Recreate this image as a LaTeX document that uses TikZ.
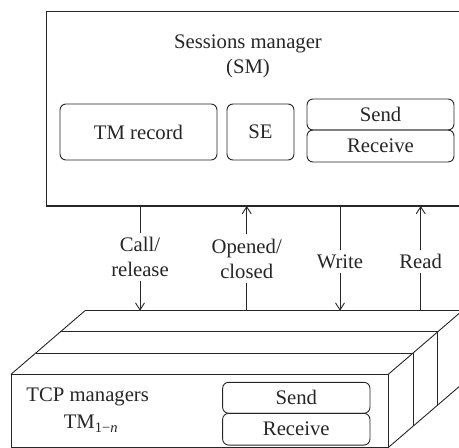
\documentclass[tikz,border=0pt]{standalone}
\usepackage{fontspec}
\setmainfont{Liberation Serif}
\usetikzlibrary{arrows.meta}

\begin{document}
\begin{tikzpicture}[x=1pt, y=-1pt, line width=0.9pt, color=black!85,
  font=\fontsize{20.7}{25}\selectfont,
  box/.style={draw, rounded corners=6pt, inner sep=0pt},
  lbl/.style={align=center, inner xsep=2pt, inner ysep=4pt},
  sig/.style={-{Straight Barb[length=7pt, width=9pt]}}]

\useasboundingbox (0,0) rectangle (459,448);
\clip (0,0) rectangle (459,448);

% ---- Sessions manager ----
\node[draw, line width=1.2pt, outer sep=0pt, anchor=north west,
      minimum width=440pt, minimum height=194.3pt] (sm) at (46.7,11.7) {};
\node[align=center] (smtitle) at (248,56) {Sessions manager\\(SM)};

\node[box, minimum width=157pt, minimum height=56pt] (rec) at (138.5,132) {TM record};
\node[box, minimum width=67pt, minimum height=56pt] (se) at (260.5,132) {SE};
\node[box, minimum width=147pt, minimum height=31pt] (smsend) at (380.5,114.5) {Send};
\node[box, minimum width=147pt, minimum height=32pt] (smrecv) at (380.5,146) {Receive};

% ---- stacked TCP managers (front face + depth slices) ----
\node[draw, outer sep=0pt, anchor=north west,
      minimum width=377.3pt, minimum height=73.2pt] (tcp) at (11,374.3) {};

\foreach \dx/\dy in {24.67/-21.2, 49.33/-42.4, 74/-63.6}{
  \draw ([shift={(\dx,\dy)}]tcp.north west) -- ([shift={(\dx,\dy)}]tcp.north east)
        -- ([shift={(\dx,\dy)}]tcp.south east);
}
\draw (tcp.north west) -- ([shift={(74,-63.6)}]tcp.north west);
\draw (tcp.north east) -- ([shift={(74,-63.6)}]tcp.north east);
\draw (tcp.south east) -- ([shift={(74,-63.6)}]tcp.south east);
\coordinate (back) at ([shift={(74,-63.6)}]tcp.north west);

\node[anchor=base west] (tcpname) at (22.7,401.7) {TCP managers};
\node[anchor=base west] (tcpidx) at (60,428)
  {TM\raisebox{-0.22em}{\fontsize{14.5}{14.5}\selectfont 1−\textit{n}}};

\node[box, minimum width=147.3pt, minimum height=31pt] (tsend) at (296.3,397.8) {Send};
\node[box, minimum width=147.3pt, minimum height=31.7pt] (trecv) at (296.3,429.2) {Receive};

% ---- signals between the two ----
\node[lbl] (lcall)  at (140,257)   {Call/\\release};
\node[lbl] (lopen)  at (246.7,258.5) {Opened/\\closed};
\node[lbl] (lwrite) at (340,261.7) {Write};
\node[lbl] (lread)  at (420.7,261.7) {Read};

\draw (sm.south -| lcall.north) -- (lcall.north);
\draw[sig] (lcall.south) -- (back -| lcall.south);

\draw (back -| lopen.south) -- (lopen.south);
\draw[sig] (lopen.north) -- (sm.south -| lopen.north);

\draw (sm.south -| lwrite.north) -- (lwrite.north);
\draw[sig] (lwrite.south) -- (back -| lwrite.south);

\draw (back -| lread.south) -- (lread.south);
\draw[sig] (lread.north) -- (sm.south -| lread.north);
\end{tikzpicture}
\end{document}
